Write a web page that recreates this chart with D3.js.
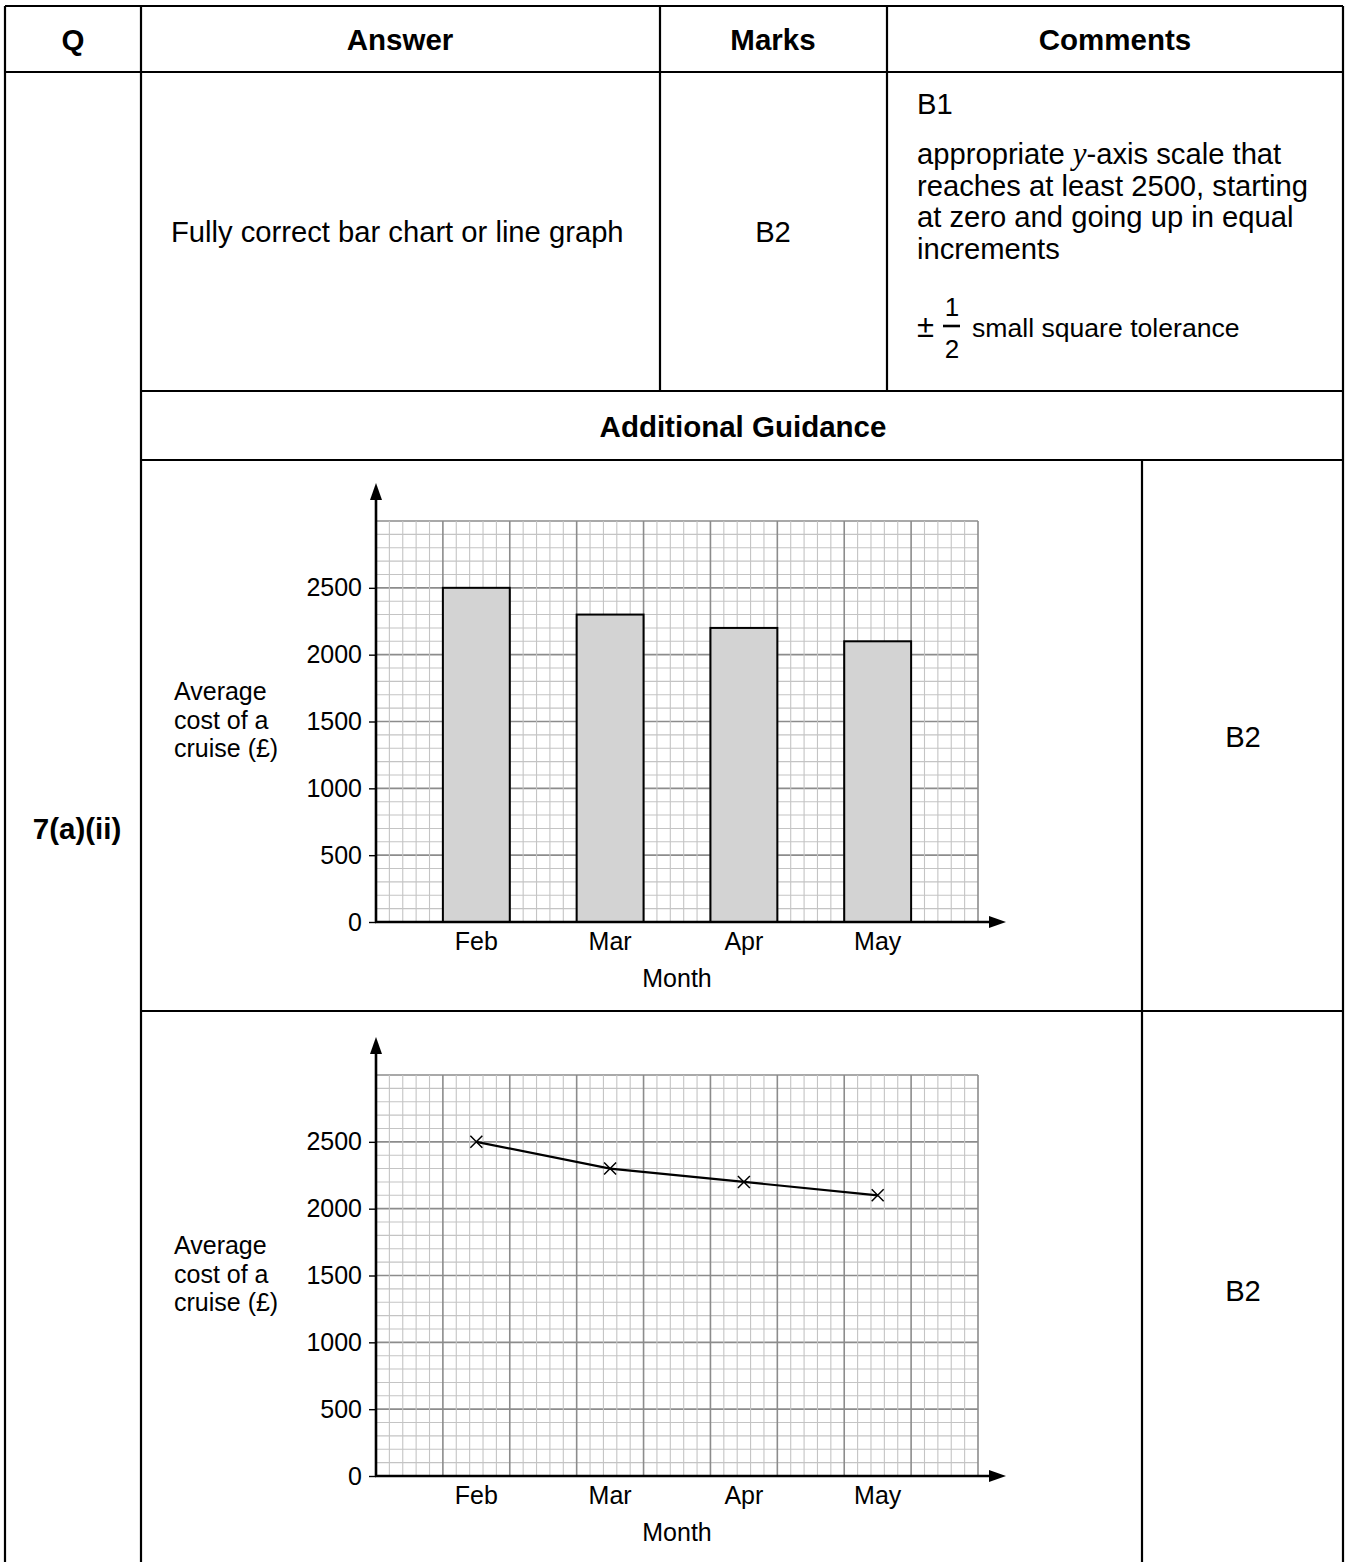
<!DOCTYPE html>
<html>
<head>
<meta charset="utf-8">
<script src="https://cdn.jsdelivr.net/npm/d3@7"></script>
<style>
  html, body { margin: 0; padding: 0; background: #fff; }
  svg text { font-family: "Liberation Sans", Arial, sans-serif; fill: #000; }
</style>
</head>
<body>
<svg id="chart" width="1349" height="1562"></svg>
<script>
// ---- data ----
const months = ["Feb", "Mar", "Apr", "May"];
const costs = [2500, 2300, 2200, 2100];
const yTicks = [0, 500, 1000, 1500, 2000, 2500];
const yLabelLines = ["Average", "cost of a", "cruise (£)"];
const headers = ["Q", "Answer", "Marks", "Comments"];
const commentLines = ["reaches at least 2500, starting", "at zero and going up in equal", "increments"];

const svg = d3.select("#chart");
svg.append("rect").attr("width", 1349).attr("height", 1562).attr("fill", "#fff");

// ---- table ----
const T = svg.append("g").attr("stroke", "#000").attr("stroke-width", 2.2);
const line = (x1, y1, x2, y2) => T.append("line").attr("x1", x1).attr("y1", y1).attr("x2", x2).attr("y2", y2);
line(5, 6, 1343, 6);
line(5, 72, 1343, 72);
line(141, 391, 1343, 391);
line(141, 460, 1343, 460);
line(141, 1011, 1343, 1011);
line(5, 6, 5, 1562);
line(141, 6, 141, 1562);
line(660, 6, 660, 391);
line(887, 6, 887, 391);
line(1142, 460, 1142, 1562);
line(1343, 6, 1343, 1562);

const BODY = 29.2;
const BOLD = 29.5;
const txt = (x, y, s, opts = {}) => svg.append("text").attr("x", x).attr("y", y)
  .attr("font-size", opts.size || BODY).attr("font-weight", opts.bold ? "bold" : "normal")
  .attr("text-anchor", opts.anchor || "start").text(s);

const headerX = [73, 400, 773, 1115];
headers.forEach((h, i) => txt(headerX[i], 50, h, { bold: true, anchor: "middle", size: BOLD }));

txt(171, 242, "Fully correct bar chart or line graph");
txt(773, 242, "B2", { anchor: "middle" });
txt(917, 114, "B1");
const t1 = svg.append("text").attr("x", 917).attr("y", 164).attr("font-size", BODY);
t1.append("tspan").text("appropriate ");
t1.append("tspan").attr("font-family", "Liberation Serif, serif").attr("font-style", "italic").attr("font-size", 31).text("y");
t1.append("tspan").text("-axis scale that");
commentLines.forEach((s, i) => txt(917, 195.7 + i * 31.7, s));
txt(917, 337, "±", { size: 31 });
txt(952, 316, "1", { anchor: "middle", size: 26 });
svg.append("line").attr("x1", 943).attr("x2", 960).attr("y1", 326).attr("y2", 326).attr("stroke", "#000").attr("stroke-width", 2.6);
txt(952, 358, "2", { anchor: "middle", size: 26 });
txt(972, 337, "small square tolerance", { size: 26.6 });

txt(743, 437, "Additional Guidance", { bold: true, anchor: "middle", size: BOLD });
txt(77, 839, "7(a)(ii)", { bold: true, anchor: "middle", size: BOLD });
txt(1243, 747, "B2", { anchor: "middle" });
txt(1243, 1301, "B2", { anchor: "middle" });

// ---- charts ----
const CH = 25;
function drawChart(dy, kind) {
  const g = svg.append("g").attr("transform", `translate(0,${dy})`);
  const y = d3.scaleLinear().domain([0, 3000]).range([922, 521]);
  const gx = d3.scaleLinear().domain([0, 9]).range([376, 978]);
  const x = d3.scaleBand().domain(months).range([gx(1), gx(8)]).paddingInner(0.5).paddingOuter(0);

  // grid
  const grid = g.append("g");
  const minorY = d3.range(0, 3001, 100);
  const minorX = d3.range(0, 9.001, 0.2);
  grid.selectAll(".hy").data(minorY).join("line")
    .attr("x1", gx(0)).attr("x2", gx(9)).attr("y1", d => y(d)).attr("y2", d => y(d))
    .attr("stroke", d => d % 500 === 0 ? "#8c8c8c" : "#c4c4c4")
    .attr("stroke-width", d => d % 500 === 0 ? 1.6 : 1.1);
  grid.selectAll(".vx").data(minorX).join("line")
    .attr("y1", y(0)).attr("y2", y(3000)).attr("x1", d => gx(d)).attr("x2", d => gx(d))
    .attr("stroke", d => Math.abs(d - Math.round(d)) < 1e-6 ? "#8c8c8c" : "#c4c4c4")
    .attr("stroke-width", d => Math.abs(d - Math.round(d)) < 1e-6 ? 1.6 : 1.1);

  if (kind === "bar") {
    g.selectAll(".bar").data(months).join("rect")
      .attr("x", m => x(m)).attr("width", x.bandwidth())
      .attr("y", (m, i) => y(costs[i])).attr("height", (m, i) => y(0) - y(costs[i]))
      .attr("fill", "#d3d3d3").attr("stroke", "#000").attr("stroke-width", 2);
  } else {
    const pts = months.map((m, i) => [x(m) + x.bandwidth() / 2, y(costs[i])]);
    g.append("path").attr("d", d3.line()(pts)).attr("fill", "none").attr("stroke", "#000").attr("stroke-width", 2.2);
    const s = 6;
    g.selectAll(".mk").data(pts).join("path")
      .attr("d", p => `M${p[0]-s},${p[1]-s}L${p[0]+s},${p[1]+s}M${p[0]-s},${p[1]+s}L${p[0]+s},${p[1]-s}`)
      .attr("stroke", "#000").attr("stroke-width", 1.5).attr("fill", "none");
  }

  // y axis
  const ya = g.append("g").attr("transform", `translate(${gx(0)},0)`)
    .call(d3.axisLeft(y).tickValues(yTicks).tickSize(7).tickPadding(7).tickFormat(d3.format("d")));
  ya.select(".domain").remove();
  ya.selectAll(".tick line").attr("stroke", "#000").attr("stroke-width", 1.4);
  ya.selectAll(".tick text").attr("font-size", CH).attr("font-family", "Liberation Sans, Arial, sans-serif").attr("fill", "#000");
  g.append("line").attr("x1", gx(0)).attr("x2", gx(0)).attr("y1", y(0) + 1).attr("y2", 495)
    .attr("stroke", "#000").attr("stroke-width", 2.6);
  g.append("path").attr("d", `M${gx(0)},483L${gx(0) - 6},500L${gx(0) + 6},500Z`).attr("fill", "#000");

  // x axis
  const xa = g.append("g").attr("transform", `translate(0,${y(0)})`)
    .call(d3.axisBottom(x).tickSize(0).tickPadding(10));
  xa.select(".domain").remove();
  xa.selectAll(".tick text").attr("font-size", CH).attr("font-family", "Liberation Sans, Arial, sans-serif").attr("fill", "#000");
  g.append("line").attr("x1", gx(0) - 1).attr("x2", 995).attr("y1", y(0)).attr("y2", y(0))
    .attr("stroke", "#000").attr("stroke-width", 2.6);
  g.append("path").attr("d", `M1006,${y(0)}L989,${y(0) - 6}L989,${y(0) + 6}Z`).attr("fill", "#000");

  // axis titles
  g.append("text").attr("x", 677).attr("y", 987).attr("font-size", CH).attr("text-anchor", "middle").text("Month");
  yLabelLines.forEach((s, i) => g.append("text").attr("x", 174).attr("y", 700 + i * 28.5).attr("font-size", CH).text(s));
}

drawChart(0, "bar");
drawChart(554, "line");
</script>
</body>
</html>
